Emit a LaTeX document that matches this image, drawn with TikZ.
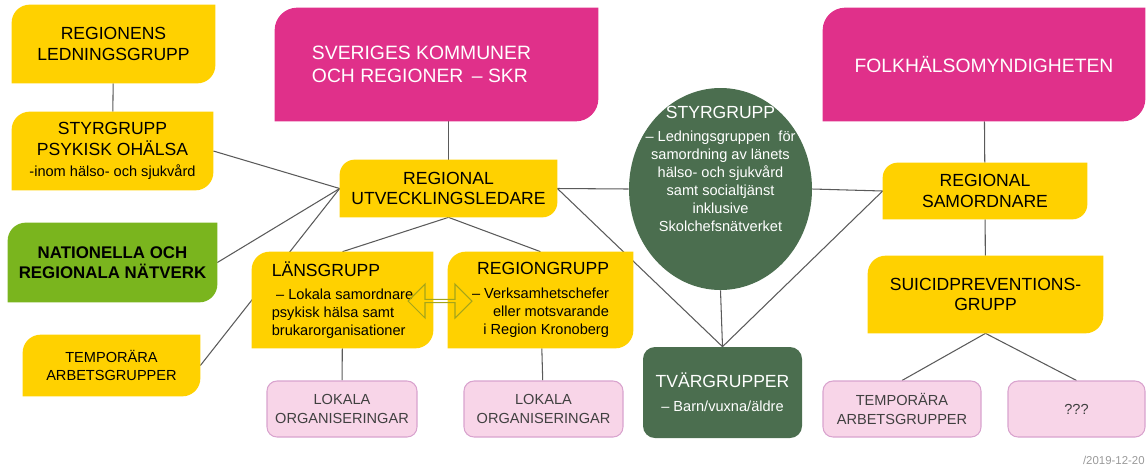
\documentclass[tikz,border=0pt]{standalone}
\usepackage{fontspec}
\setmainfont{Liberation Sans}
\usetikzlibrary{shapes.geometric,shapes.arrows,backgrounds}

\definecolor{gul}{HTML}{FFD100}
\definecolor{gron}{HTML}{7AB51E}
\definecolor{morkgron}{HTML}{4B6E4F}
\definecolor{rosa}{HTML}{E0308A}
\definecolor{ljusrosa}{HTML}{F8D5E8}
\definecolor{rosakant}{HTML}{D9A3CE}
\definecolor{pilkant}{HTML}{A5A51A}
\definecolor{linje}{HTML}{5A5A5A}

\newcommand{\stor}{\fontsize{11}{13}\selectfont}
\newcommand{\mellan}{\fontsize{10}{11.8}\selectfont}
\newcommand{\liten}{\fontsize{8.3}{10.3}\selectfont}

\newcommand{\hornbox}[3]{%
	\fill[#2] (#1.south west) -- ([yshift=-#3]#1.north west)
		.. controls ([yshift=-0.45*#3]#1.north west) and ([xshift=0.45*#3]#1.north west) .. ([xshift=#3]#1.north west)
		-- (#1.north east) -- ([yshift=#3]#1.south east)
		.. controls ([yshift=0.45*#3]#1.south east) and ([xshift=-0.45*#3]#1.south east) .. ([xshift=-#3]#1.south east)
		-- cycle;}

\tikzset{
	storlek/.style 2 args={minimum width=#1*0.02cm, minimum height=#2*0.02cm},
	ruta/.style={inner sep=0pt, align=center, font=\mellan},
	rundruta/.style={ruta, rounded corners=0.2cm, fill=ljusrosa, draw=rosakant, line width=0.6pt, text=black!75, font=\liten},
	forbind/.style={draw=linje, line width=0.6pt},
}

\begin{document}
\begin{tikzpicture}[x=0.02cm, y=-0.02cm]
	\useasboundingbox (0,0) rectangle (1146,468);

	\node[ruta, storlek={203}{78}] (ledn) at (113.5,44) {REGIONENS\\LEDNINGSGRUPP};
	\node[ruta, storlek={201}{78}] (styr) at (112.5,151) {STYRGRUPP\\PSYKISK OHÄLSA\\\liten -inom hälso- och sjukvård};
	\node[ruta, storlek={209}{79}, font=\fontsize{9.6}{11.5}\selectfont\bfseries] (nat) at (112.5,262.5) {NATIONELLA OCH\\REGIONALA NÄTVERK};
	\node[ruta, storlek={177}{61}, font=\liten] (templ) at (111.5,365.5) {TEMPORÄRA\\ARBETSGRUPPER};

	\node[ruta, storlek={323}{113}, font=\stor, text=white, align=left] (skr) at (436.5,64.5) {SVERIGES KOMMUNER\hspace*{0.6cm}\\OCH REGIONER \,– SKR};
	\node[ruta, storlek={217}{57}] (utv) at (448.5,188.5) {REGIONAL\\UTVECKLINGSLEDARE};
	\node[ruta, storlek={181}{96}, align=left, font=\liten] (lans) at (342.5,300) {\mellan LÄNSGRUPP\\[3pt]\hspace*{0.3em}– Lokala samordnare\\psykisk hälsa samt\\brukarorganisationer};
	\node[ruta, storlek={185}{96}, align=right, font=\liten] (regi) at (540.5,300) {\mellan REGIONGRUPP\\[3pt]– Verksamhetschefer\\eller motsvarande\\i Region Kronoberg};
	\node[rundruta, storlek={150}{56}] (lok1) at (342,409) {LOKALA\\ORGANISERINGAR};
	\node[rundruta, storlek={159}{56}] (lok2) at (543.5,409) {LOKALA\\ORGANISERINGAR};
	\node[double arrow, draw=pilkant, line width=0.6pt, minimum height=1.28cm, minimum width=0.68cm, double arrow head extend=0.1cm, inner sep=0pt] (pil) at (440,301) {};

	\node[ellipse, fill=morkgron, inner sep=0pt, storlek={183}{202}] (styrell) at (720.5,189) {};
	\node[ruta, text=white, font=\liten] (styrtext) at (720.5,169) {\mellan STYRGRUPP\\[3pt]– Ledningsgruppen \ för\\samordning av länets\\hälso- och sjukvård\\samt socialtjänst\\inklusive\\Skolchefsnätverket};
	\node[ruta, fill=morkgron, rounded corners=0.24cm, text=white, storlek={159}{91}] (tvar) at (722.5,392.5) {TVÄRGRUPPER\\[2pt]\liten – Barn/vuxna/äldre};

	\node[ruta, storlek={322}{113}, font=\stor, text=white] (folk) at (984,64.5) {FOLKHÄLSOMYNDIGHETEN};
	\node[ruta, storlek={204}{56}] (sam) at (985,191) {REGIONAL\\SAMORDNARE};
	\node[ruta, storlek={235}{77}] (sui) at (985.5,294.5) {SUICIDPREVENTIONS-\\GRUPP};
	\node[rundruta, storlek={158}{56}] (tempr) at (902,409) {TEMPORÄRA\\ARBETSGRUPPER};
	\node[rundruta, storlek={137}{56}] (fraga) at (1076.5,409) {???};

	\node[anchor=east, inner sep=0pt, text=black!40, font=\fontsize{6.5}{8}\selectfont] (datum) at (1145,460) {/2019-12-20};

	\begin{scope}[on background layer]
		\foreach \fra/\till in {ledn/styr, styr.east/utv.west, nat.east/utv.west, templ.east/utv.west,
				utv.north/{utv.north |- skr.south}, utv.south/lans.north, utv.south/regi.north,
				utv.east/styrell.west, utv.east/tvar.north, styrell.south/tvar.north,
				styrell.east/sam.west, sam.west/tvar.north, folk/sam, sam/sui,
				sui.south/tempr.north, sui.south/fraga.north, lans/lok1, regi/lok2}
			\draw[forbind] (\fra) -- (\till);

		\foreach \n/\f/\r in {ledn/gul/0.36cm, styr/gul/0.36cm, nat/gron/0.36cm, templ/gul/0.36cm,
				skr/rosa/0.45cm, utv/gul/0.3cm, lans/gul/0.36cm, regi/gul/0.36cm,
				folk/rosa/0.45cm, sam/gul/0.3cm, sui/gul/0.36cm}
			{\hornbox{\n}{\f}{\r}}
	\end{scope}
\end{tikzpicture}
\end{document}
